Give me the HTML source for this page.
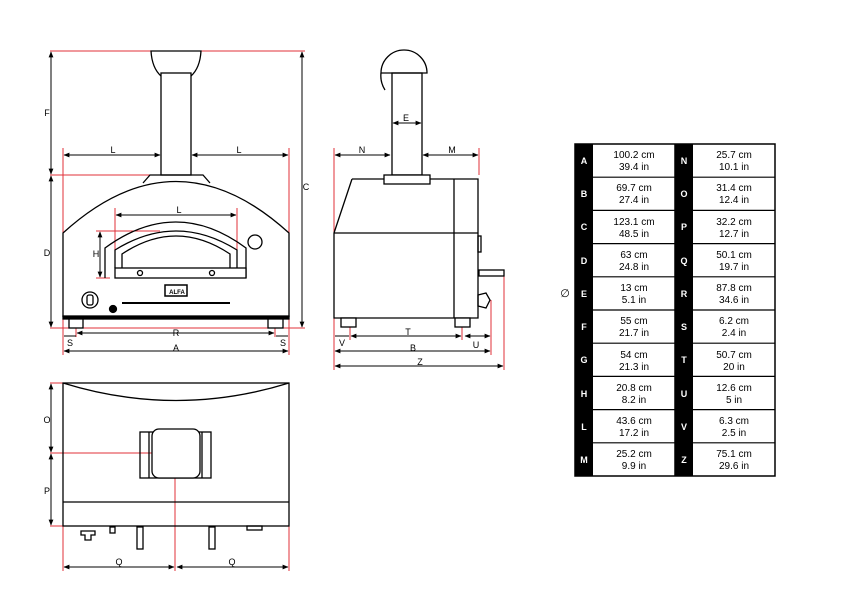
<!DOCTYPE html>
<html><head><meta charset="utf-8"><style>
html,body{margin:0;padding:0;background:#fff;}
svg{display:block;font-family:"Liberation Sans",sans-serif;}
</style></head><body>
<svg width="843" height="616" viewBox="0 0 843 616" xmlns="http://www.w3.org/2000/svg">
<defs>
<marker id="a" viewBox="0 0 10 10" refX="9" refY="5" markerWidth="6" markerHeight="6" orient="auto-start-reverse"><path d="M0,1 L10,5 L0,9 z" fill="#000"/></marker>
</defs>
<g stroke="#e0303a" stroke-width="1" fill="none">
<!-- front -->
<line x1="50" y1="51" x2="305" y2="51"/>
<line x1="50" y1="175" x2="160" y2="175"/>
<line x1="63" y1="148" x2="63" y2="355"/>
<line x1="289" y1="148" x2="289" y2="355"/>
<line x1="50" y1="328" x2="305" y2="328"/>
<line x1="115" y1="208" x2="115" y2="268"/>
<line x1="237" y1="208" x2="237" y2="268"/>
<line x1="96" y1="231" x2="160" y2="231"/>
<line x1="96" y1="278" x2="110" y2="278"/>
<line x1="76" y1="326" x2="76" y2="337"/>
<line x1="275" y1="326" x2="275" y2="337"/>
<!-- side -->
<line x1="334" y1="148" x2="334" y2="370"/>
<line x1="479" y1="148" x2="479" y2="175"/>
<line x1="491" y1="300" x2="491" y2="355"/>
<line x1="504" y1="274" x2="504" y2="370"/>
<line x1="350" y1="326" x2="350" y2="340"/>
<line x1="462" y1="326" x2="462" y2="340"/>
<!-- top -->
<line x1="50" y1="453" x2="175" y2="453"/>
<line x1="175" y1="453" x2="175" y2="571"/>
<line x1="50" y1="526" x2="63" y2="526"/>
<line x1="50" y1="383" x2="63" y2="383"/>
<line x1="63" y1="526" x2="63" y2="571"/>
<line x1="289" y1="526" x2="289" y2="571"/>
</g>

<g stroke="#000" stroke-width="1.3" fill="none">
<!-- front view -->
<path d="M151,51 L201,51 Q200,68 191,76 L161,76 Q152,68 151,51 Z" fill="#fff"/>
<rect x="161" y="73" width="30" height="102" fill="#fff"/>
<path d="M143,183 L150,175 L203,175 L210,183"/>
<path d="M63,317 L63,233 Q176,130 289,233 L289,317"/>
<rect x="63" y="316" width="226" height="3" fill="#000"/>
<path d="M105,278 L105,248 Q176,196 246,248 L246,278"/>
<path d="M115,268 L115,250 Q176,212 237,250 L237,268"/>
<path d="M122,268 L122,254 Q176,218 230,254 L230,268"/>
<rect x="115" y="268" width="131" height="10" fill="#fff"/>
<circle cx="140" cy="273" r="2.5"/><circle cx="212" cy="273" r="2.5"/>
<circle cx="255" cy="242" r="7"/>
<rect x="165" y="285" width="22" height="11" stroke-width="1.5"/>
<line x1="122" y1="303" x2="230" y2="303" stroke-width="2"/>
<circle cx="90" cy="300" r="8"/>
<rect x="87" y="295" width="6" height="10" rx="2"/>
<circle cx="113" cy="309" r="3.5" fill="#000"/>
<rect x="69" y="319" width="14" height="9" fill="#fff"/>
<rect x="268" y="319" width="15" height="9" fill="#fff"/>
<!-- side view -->
<path d="M381,73 A23,23 0 0 1 427,73 Z" fill="#fff"/>
<path d="M381,73 Q380,82 385,90"/>
<rect x="392" y="73" width="30" height="102"/>
<rect x="384" y="175" width="46" height="9" fill="#fff"/>
<path d="M352,179 L384,179 M430,179 L478,179 L478,318 L334,318 L334,233 L352,179"/>
<line x1="334" y1="233" x2="478" y2="233"/>
<line x1="454" y1="179" x2="454" y2="318"/>
<rect x="478" y="236" width="3" height="16"/>
<rect x="479" y="270" width="25" height="6"/>
<path d="M478,295 L486,293 L490,300 L486,308 L478,306 Z"/>
<rect x="341" y="318" width="15" height="9" fill="#fff"/>
<rect x="455" y="318" width="15" height="9" fill="#fff"/>
<!-- top view -->
<rect x="63" y="383" width="226" height="143"/>
<path d="M63,383 Q176,418 289,383"/>
<line x1="63" y1="502" x2="289" y2="502"/>
<rect x="140" y="432" width="71" height="46"/>
<line x1="149" y1="432" x2="149" y2="478"/>
<line x1="202" y1="432" x2="202" y2="478"/>
<rect x="152" y="429" width="48" height="49" rx="7" fill="#fff"/>
<path d="M81,531 L95,531 L95,535 L91,535 L91,540 L85,540 L85,535 L81,535 Z"/>
<rect x="110" y="527" width="5" height="6"/>
<rect x="137" y="527" width="6" height="22"/>
<rect x="209" y="527" width="6" height="22"/>
<rect x="247" y="526" width="15" height="4"/>
</g>

<g stroke="#000" stroke-width="1" fill="none" marker-start="url(#a)" marker-end="url(#a)">
<line x1="51" y1="52" x2="51" y2="174"/>
<line x1="51" y1="176" x2="51" y2="327"/>
<line x1="302" y1="52" x2="302" y2="327"/>
<line x1="64" y1="155" x2="160" y2="155"/>
<line x1="192" y1="155" x2="288" y2="155"/>
<line x1="116" y1="215" x2="236" y2="215"/>
<line x1="100" y1="232" x2="100" y2="277"/>
<line x1="77" y1="333" x2="274" y2="333"/>
<line x1="64" y1="351" x2="288" y2="351"/>
<line x1="393" y1="123" x2="421" y2="123"/>
<line x1="335" y1="155" x2="390" y2="155"/>
<line x1="423" y1="155" x2="478" y2="155"/>
<line x1="351" y1="336" x2="461" y2="336"/>
<line x1="465" y1="336" x2="490" y2="336"/>
<line x1="335" y1="351" x2="490" y2="351"/>
<line x1="335" y1="366" x2="503" y2="366"/>
<line x1="51" y1="384" x2="51" y2="452"/>
<line x1="51" y1="454" x2="51" y2="525"/>
<line x1="64" y1="567" x2="174" y2="567"/>
<line x1="177" y1="567" x2="288" y2="567"/>
</g>
<g stroke="#000" stroke-width="1" fill="none">
<line x1="64" y1="336" x2="76" y2="336"/><line x1="276" y1="336" x2="288" y2="336"/>
<line x1="335" y1="336" x2="349" y2="336"/>
</g>

<g font-size="9" fill="#000" text-anchor="middle">
<text x="47" y="116">F</text><text x="47" y="256">D</text><text x="306" y="190">C</text>
<text x="113" y="153">L</text><text x="239" y="153">L</text><text x="179" y="213">L</text>
<text x="96" y="257">H</text><text x="176" y="336">R</text><text x="176" y="351">A</text>
<text x="70" y="346">S</text><text x="283" y="346">S</text>
<text x="406" y="121">E</text><text x="362" y="153">N</text><text x="452" y="153">M</text>
<text x="408" y="335">T</text><text x="342" y="346">V</text><text x="476" y="348">U</text>
<text x="413" y="351">B</text><text x="420" y="365">Z</text>
<text x="47" y="423">O</text><text x="47" y="494">P</text>
<text x="119" y="565">Q</text><text x="232" y="565">Q</text>
<text x="177" y="294" font-size="6" font-weight="bold">ALFA</text>
<text x="565" y="297" font-size="11">∅</text>
</g>

<!-- table -->
<g>
<rect x="575" y="144" width="200" height="332" fill="#fff" stroke="#000" stroke-width="1.5"/>
<rect x="575" y="144" width="18" height="332" fill="#000"/>
<rect x="675" y="144" width="18" height="332" fill="#000"/>
<line x1="675" y1="144" x2="675" y2="476" stroke="#000" stroke-width="1.5"/>
<g stroke="#000" stroke-width="1.2">
<line x1="575" y1="177.2" x2="775" y2="177.2"/><line x1="575" y1="210.4" x2="775" y2="210.4"/>
<line x1="575" y1="243.6" x2="775" y2="243.6"/><line x1="575" y1="276.8" x2="775" y2="276.8"/>
<line x1="575" y1="310" x2="775" y2="310"/><line x1="575" y1="343.2" x2="775" y2="343.2"/>
<line x1="575" y1="376.4" x2="775" y2="376.4"/><line x1="575" y1="409.6" x2="775" y2="409.6"/>
<line x1="575" y1="442.8" x2="775" y2="442.8"/>
</g>
<g fill="#fff" font-size="9" font-weight="bold" text-anchor="middle">
<text x="584" y="164">A</text><text x="584" y="197">B</text><text x="584" y="230">C</text><text x="584" y="264">D</text><text x="584" y="297">E</text><text x="584" y="330">F</text><text x="584" y="363">G</text><text x="584" y="397">H</text><text x="584" y="430">L</text><text x="584" y="463">M</text>
<text x="684" y="164">N</text><text x="684" y="197">O</text><text x="684" y="230">P</text><text x="684" y="264">Q</text><text x="684" y="297">R</text><text x="684" y="330">S</text><text x="684" y="363">T</text><text x="684" y="397">U</text><text x="684" y="430">V</text><text x="684" y="463">Z</text>
</g>
<g fill="#000" font-size="10" text-anchor="middle">
<text x="634" y="158">100.2 cm</text><text x="634" y="170">39.4 in</text>
<text x="634" y="191">69.7 cm</text><text x="634" y="203">27.4 in</text>
<text x="634" y="225">123.1 cm</text><text x="634" y="237">48.5 in</text>
<text x="634" y="258">63 cm</text><text x="634" y="270">24.8 in</text>
<text x="634" y="291">13 cm</text><text x="634" y="303">5.1 in</text>
<text x="634" y="324">55 cm</text><text x="634" y="336">21.7 in</text>
<text x="634" y="358">54 cm</text><text x="634" y="370">21.3 in</text>
<text x="634" y="391">20.8 cm</text><text x="634" y="403">8.2 in</text>
<text x="634" y="424">43.6 cm</text><text x="634" y="436">17.2 in</text>
<text x="634" y="457">25.2 cm</text><text x="634" y="469">9.9 in</text>
<text x="734" y="158">25.7 cm</text><text x="734" y="170">10.1 in</text>
<text x="734" y="191">31.4 cm</text><text x="734" y="203">12.4 in</text>
<text x="734" y="225">32.2 cm</text><text x="734" y="237">12.7 in</text>
<text x="734" y="258">50.1 cm</text><text x="734" y="270">19.7 in</text>
<text x="734" y="291">87.8 cm</text><text x="734" y="303">34.6 in</text>
<text x="734" y="324">6.2 cm</text><text x="734" y="336">2.4 in</text>
<text x="734" y="358">50.7 cm</text><text x="734" y="370">20 in</text>
<text x="734" y="391">12.6 cm</text><text x="734" y="403">5 in</text>
<text x="734" y="424">6.3 cm</text><text x="734" y="436">2.5 in</text>
<text x="734" y="457">75.1 cm</text><text x="734" y="469">29.6 in</text>
</g>
</g>
</svg>
</body></html>
